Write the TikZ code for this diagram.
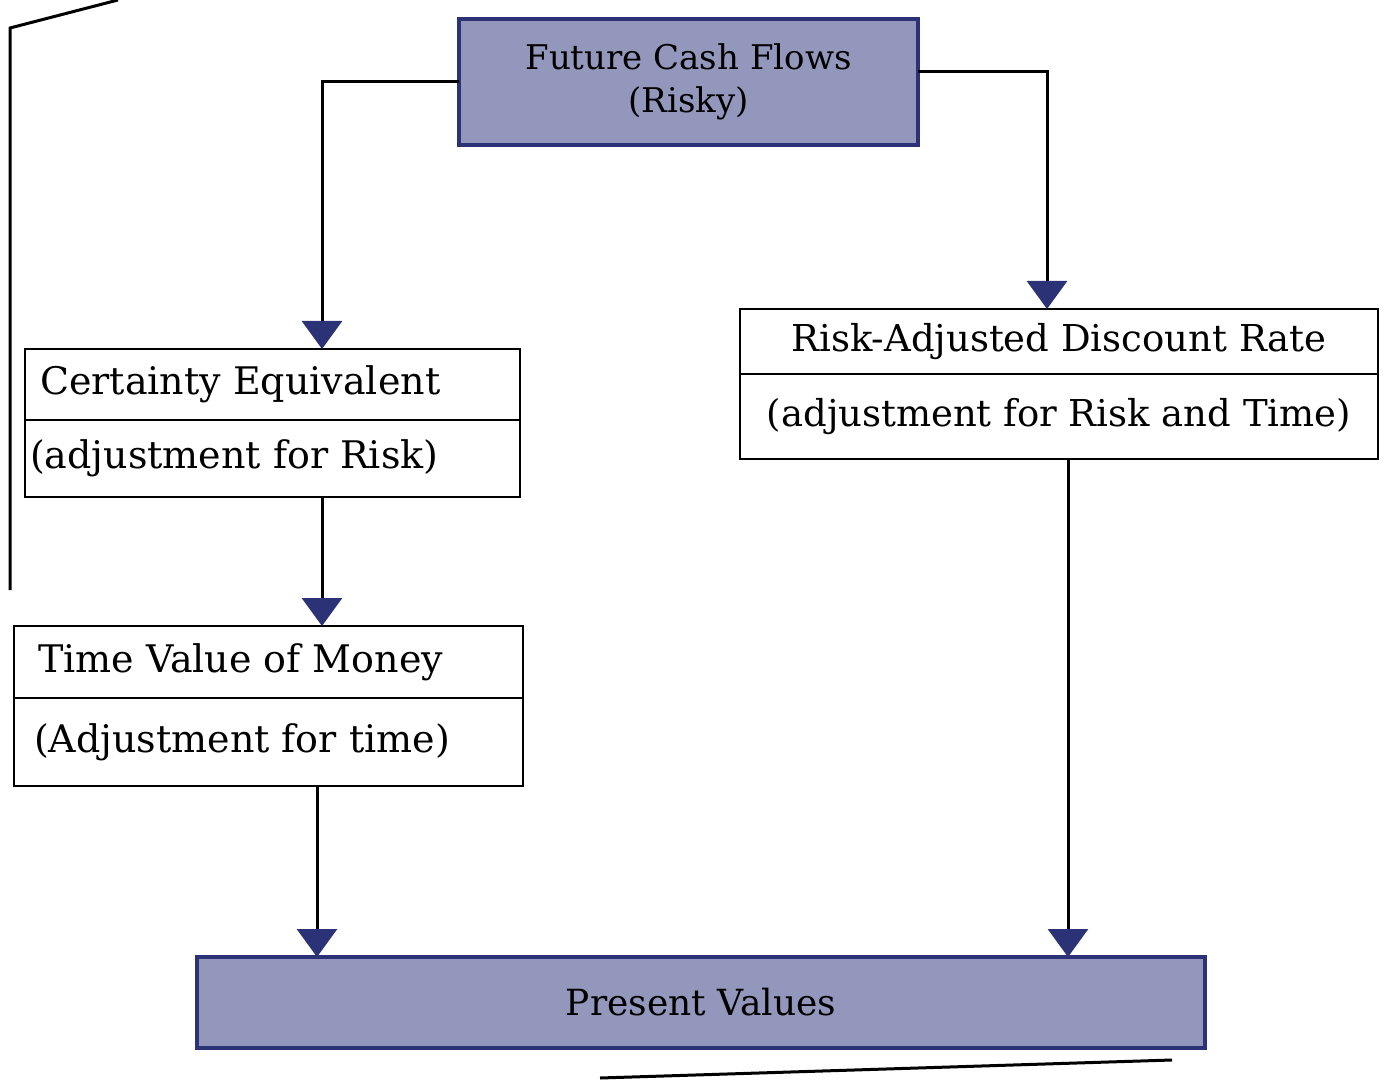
\documentclass[tikz,border=0pt]{standalone}
\usepackage{fontspec}
\setmainfont{DejaVu Serif}
\usetikzlibrary{arrows.meta}
\definecolor{navy}{HTML}{2B3275}
\definecolor{shade}{HTML}{9297BB}
\begin{document}
\begin{tikzpicture}[x=0.5pt,y=-0.5pt,
  every node/.style={outer sep=0pt},
  lbox/.style={draw=black, line width=1.4pt, anchor=north west, inner ysep=0pt, align=flush left, font=\fontsize{19}{23}\selectfont},
  cbox/.style={draw=black, line width=1.4pt, anchor=north west, inner ysep=0pt, align=center, font=\fontsize{18.5}{23}\selectfont},
  dbox/.style={draw=navy, fill=shade, line width=1.6pt, anchor=north west, inner sep=0pt, align=center},
  frame/.style={line width=1.5pt, draw=black},
  arr/.style={line width=1.5pt, draw=black, -{Triangle[width=20pt,length=14pt,color=navy]}},
]
\fill[white] (0,0) rectangle (1386,1080);
\useasboundingbox (0,0) rectangle (1386,1080);

% page frame remnants
\draw[frame] (10,590) -- (10,28) -- (118,0);
\draw[frame] (600,1078) -- (1172,1060);

% boxes
\node[dbox, minimum width=229.5pt, minimum height=63pt, font=\fontsize{17}{21.5}\selectfont] (fcf) at (459,19) {Future Cash Flows\\(Risky)};

\node[lbox, inner xsep=7.5pt, text width=232.5pt, minimum height=35.5pt] (ceA) at (25,349) {Certainty Equivalent};
\node[lbox, inner xsep=2.5pt, text width=242.5pt, minimum height=38.5pt] (ceB) at (ceA.south west) {(adjustment for Risk)};

\node[lbox, inner xsep=12pt, text width=230.5pt, minimum height=36pt] (tvmA) at (14,626) {Time Value of Money};
\node[lbox, inner xsep=10pt, text width=234.5pt, minimum height=44pt] (tvmB) at (tvmA.south west) {(Adjustment for time)};

\node[cbox, minimum width=319pt, minimum height=32.5pt] (radrA) at (740,309) {Risk-Adjusted Discount Rate};
\node[cbox, minimum width=319pt, minimum height=42.5pt] (radrB) at (radrA.south west) {(adjustment for Risk and Time)};

\node[dbox, minimum width=504pt, minimum height=45.5pt, font=\fontsize{18}{23}\selectfont] (pv) at (197,957) {Present Values};

% connector columns
\coordinate (lx) at (322,0);
\coordinate (lx2) at (317,0);
\coordinate (rx) at (1047,0);
\coordinate (rx2) at (1068,0);

\draw[arr] (fcf.west) -| (lx |- ceA.north);
\draw[arr] ([yshift=5pt]fcf.east) -| (rx |- radrA.north);
\draw[arr] (lx |- ceB.south) -- (lx |- tvmA.north);
\draw[arr] (lx2 |- tvmB.south) -- (lx2 |- pv.north);
\draw[arr] (rx2 |- radrB.south) -- (rx2 |- pv.north);
\end{tikzpicture}
\end{document}
